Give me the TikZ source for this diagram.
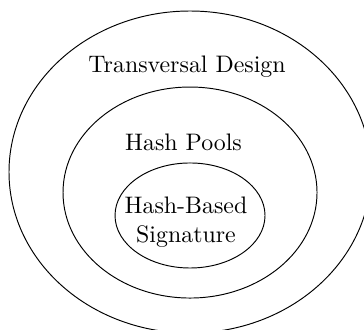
\documentclass[tikz,border=0pt]{standalone}
\usetikzlibrary{shapes.geometric}
\begin{document}
\begin{tikzpicture}[set/.style={shape=ellipse,draw=black,inner sep=0},setlabel/.style={anchor=base}]
\useasboundingbox (0,0) rectangle (5.358,-4.843);
\begin{scope}
\clip (0,0) rectangle (5.358,-4.843);

\node[set,minimum width=5.329cm,minimum height=4.740cm] (TD) at (2.797,-2.532) {};
\node[set,minimum width=3.739cm,minimum height=3.106cm] (HP) at (2.797,-2.834) {};
\node[set,minimum width=2.208cm,minimum height=1.546cm] (HBS) at (2.797,-3.172) {};
\end{scope}

\node[setlabel] (TDl) at (2.753,-1.060) {Transversal Design};
\node[setlabel] (HPl) at (2.701,-2.208) {Hash Pools};
\node[align=center] (HBSl) at (2.738,-3.275) {Hash-Based\\Signature};
\end{tikzpicture}
\end{document}
